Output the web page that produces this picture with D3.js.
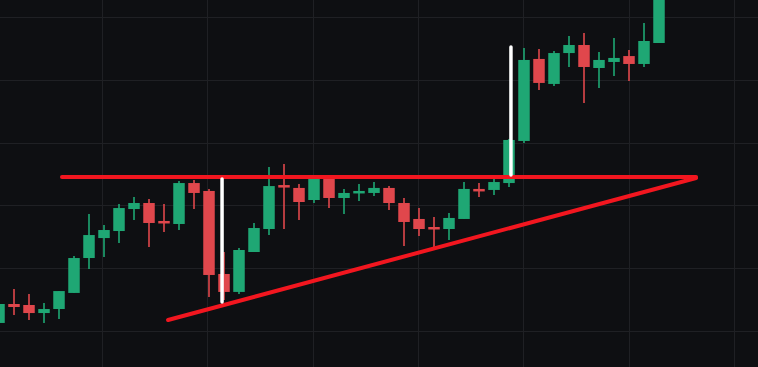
<!DOCTYPE html>
<html>
<head>
<meta charset="utf-8">
<script src="https://cdn.jsdelivr.net/npm/d3@7"></script>
<style>
  html, body { margin: 0; padding: 0; background: #0e0f12; overflow: hidden; }
</style>
</head>
<body>
<script>
// candle values (one entry per bar)
const opens  = [100.64,102.15,102.07,101.43,101.75,103.03,105.81,107.40,107.96,109.71,110.19,108.76,108.52,111.78,111.15,104.54,103.11,106.29,108.12,111.62,111.39,110.43,112.18,110.59,110.99,110.99,111.39,110.19,108.92,108.28,108.12,108.92,111.31,111.23,111.78,115.13,121.66,119.67,122.13,122.77,120.94,121.42,121.89,121.26,122.93];
const highs  = [102.23,103.34,102.95,102.23,103.18,105.97,109.32,108.44,110.11,110.67,110.51,110.11,111.94,112.02,111.31,106.29,106.61,108.60,113.06,113.30,111.70,112.42,112.34,111.31,111.70,111.86,111.54,110.59,109.79,109.08,109.39,111.86,111.78,112.26,115.29,122.53,122.45,122.29,123.49,123.73,122.21,123.33,122.37,124.52,127.95];
const lows   = [100.56,101.27,100.88,100.64,100.96,103.03,104.94,105.89,107.01,108.84,106.69,107.88,108.04,109.71,102.71,102.47,102.95,106.29,107.64,108.12,108.84,110.19,109.79,109.32,110.35,110.75,109.63,106.77,107.56,106.69,107.25,108.92,110.67,110.83,111.46,114.97,119.19,119.51,121.02,118.15,119.35,120.30,119.90,121.02,122.93];
const closes = [102.15,101.91,101.43,101.75,103.18,105.81,107.64,108.04,109.79,110.19,108.60,108.60,111.78,110.99,104.46,103.11,106.45,108.20,111.54,111.46,110.27,112.18,110.59,110.99,111.15,111.39,110.19,108.68,108.12,108.12,109.00,111.31,111.15,111.86,115.21,121.58,119.75,122.13,122.77,121.02,121.58,121.74,121.26,123.09,127.55];
const bars = d3.range(opens.length);

// price grid and time grid (bar index units)
const priceTicks = [100, 105, 110, 115, 120, 125];
const timeGrid = [6.85, 13.88, 20.9, 27.92, 34.95, 41.97, 49];

// drawn annotations: [barIndex, price]
const resistance = [[4.2, 112.26], [46.47, 112.26]];
const support = [[11.27, 100.88], [46.47, 112.18]];
const markers = [
  [[14.87, 112.10], [14.87, 102.31]],
  [[34.13, 122.61], [34.13, 112.42]]
];

const w = 758;
const h = 367;
const up = "#1fa774";
const down = "#e0474c";

const x = d3.scaleLinear().domain([0, 44]).range([-1, 659]);
const y = d3.scaleLinear().domain([100, 125]).range([331, 17]);
const bodyW = 11.5;

const svg = d3.select("body")
  .append("svg")
  .attr("width", w)
  .attr("height", h)
  .style("display", "block");

svg.append("rect")
  .attr("width", w)
  .attr("height", h)
  .attr("fill", "#0e0f12");

// grid
svg.append("g")
  .selectAll("line")
  .data(priceTicks)
  .enter()
  .append("line")
  .attr("x1", 0)
  .attr("x2", w)
  .attr("y1", (d) => Math.round(y(d)) + 0.5)
  .attr("y2", (d) => Math.round(y(d)) + 0.5)
  .attr("stroke", "#1f2024")
  .attr("stroke-width", 1);

svg.append("g")
  .selectAll("line")
  .data(timeGrid)
  .enter()
  .append("line")
  .attr("x1", (d) => Math.round(x(d)) + 0.5)
  .attr("x2", (d) => Math.round(x(d)) + 0.5)
  .attr("y1", 0)
  .attr("y2", h)
  .attr("stroke", "#1f2024")
  .attr("stroke-width", 1);

// candles
const candles = svg.append("g")
  .selectAll("g")
  .data(bars)
  .enter()
  .append("g");

candles.append("line")
  .attr("x1", (i) => x(i))
  .attr("x2", (i) => x(i))
  .attr("y1", (i) => y(highs[i]))
  .attr("y2", (i) => y(lows[i]))
  .attr("stroke", (i) => closes[i] >= opens[i] ? up : down)
  .attr("stroke-width", 1.6);

candles.append("rect")
  .attr("x", (i) => x(i) - bodyW / 2)
  .attr("width", bodyW)
  .attr("y", (i) => y(Math.max(opens[i], closes[i])))
  .attr("height", (i) => Math.max(2.5, Math.abs(y(opens[i]) - y(closes[i]))))
  .attr("fill", (i) => closes[i] >= opens[i] ? up : down);

// annotations
const line = d3.line()
  .x((d) => x(d[0]))
  .y((d) => y(d[1]));

svg.append("path")
  .attr("d", line(resistance))
  .attr("fill", "none")
  .attr("stroke", "#f2161f")
  .attr("stroke-width", 4)
  .attr("stroke-linecap", "round");

svg.append("path")
  .attr("d", line(support))
  .attr("fill", "none")
  .attr("stroke", "#f2161f")
  .attr("stroke-width", 4)
  .attr("stroke-linecap", "round");

svg.selectAll(".marker")
  .data(markers)
  .enter()
  .append("path")
  .attr("class", "marker")
  .attr("d", (d) => line(d))
  .attr("fill", "none")
  .attr("stroke", "#ffffff")
  .attr("stroke-width", 3.5)
  .attr("stroke-linecap", "round");
</script>
</body>
</html>
